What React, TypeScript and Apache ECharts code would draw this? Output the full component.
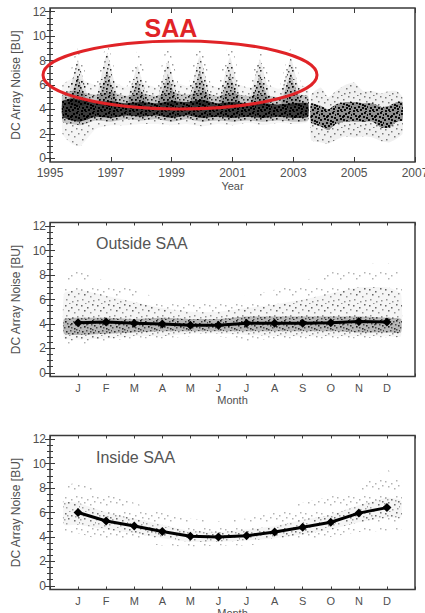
import React, { useEffect, useRef } from "react";
import * as echarts from "echarts";

// ---------- data ----------
const YEAR0 = 1995;
const yearTickLabels = ["1995", "1997", "1999", "2001", "2003", "2005", "2007"];
const monthLabels = ["J", "F", "M", "A", "M", "J", "J", "A", "S", "O", "N", "D"];
const months = [1, 2, 3, 4, 5, 6, 7, 8, 9, 10, 11, 12];

// Top panel, 1995.4 - 2003.5 (before the gap)
const earlyYears = [1995.41, 1995.7, 1996.0, 1996.5, 1997.0, 1997.5, 1998.0, 1998.5, 1999.0, 1999.5, 2000.0, 2000.5, 2001.0, 2001.5, 2002.0, 2002.5, 2003.0, 2003.48];
const earlyCoreLow = [3.4, 3.1, 3.0, 3.4, 3.3, 3.5, 3.4, 3.5, 3.3, 3.5, 3.3, 3.4, 3.3, 3.4, 3.3, 3.4, 3.3, 3.4];
const earlyCoreHigh = [4.7, 4.9, 4.8, 4.6, 4.7, 4.5, 4.6, 4.5, 4.7, 4.6, 4.8, 4.5, 4.6, 4.5, 4.5, 4.4, 4.5, 4.5];
const earlyMidLow = [3.0, 2.8, 2.7, 3.1, 3.0, 3.2, 3.1, 3.2, 3.0, 3.2, 3.0, 3.1, 3.0, 3.1, 3.0, 3.1, 3.0, 3.1];
const earlyMidHigh = [5.3, 5.5, 5.4, 5.2, 5.4, 5.1, 5.3, 5.1, 5.4, 5.2, 5.4, 5.1, 5.3, 5.1, 5.2, 5.0, 5.2, 5.1];
const earlyHaloLow = [2.0, 1.2, 1.0, 2.4, 2.7, 2.7, 2.8, 2.8, 2.7, 2.8, 2.6, 2.8, 2.7, 2.9, 2.7, 2.9, 2.8, 3.0];
const earlyHaloHigh = [6.0, 6.5, 6.5, 6.0, 6.3, 5.8, 6.2, 5.8, 6.3, 5.9, 6.3, 5.8, 6.2, 5.8, 6.1, 5.7, 6.0, 5.8];

// yearly SAA peaks
const saaPeakYears = [1995.92, 1996.88, 1997.88, 1998.88, 1999.93, 2000.92, 2001.91, 2002.92];
const saaPeakTops = [8.0, 8.6, 7.6, 8.0, 8.4, 8.3, 8.1, 8.2];
const saaDenseTops = [6.8, 7.2, 6.5, 6.9, 7.2, 7.0, 6.9, 7.0];
const saaSparseTops = [9.0, 9.3, 8.8, 9.2, 9.4, 9.5, 9.0, 9.0];

// Top panel, 2003.6 - 2006.6 (after the gap)
const lateYears = [2003.58, 2003.9, 2004.15, 2004.4, 2004.7, 2005.0, 2005.3, 2005.6, 2005.9, 2006.15, 2006.4, 2006.59];
const lateCoreLow = [2.9, 2.6, 2.3, 2.8, 3.0, 3.0, 3.0, 3.0, 2.5, 2.5, 3.0, 3.1];
const lateCoreHigh = [4.5, 4.3, 4.0, 4.4, 4.6, 4.6, 4.5, 4.5, 4.2, 4.3, 4.6, 4.6];
const lateHaloLow = [1.5, 1.3, 1.2, 1.5, 1.8, 1.7, 1.8, 1.7, 1.4, 1.3, 1.6, 2.0];
const lateHaloHigh = [5.2, 5.8, 5.0, 5.5, 6.0, 6.2, 5.5, 5.5, 5.3, 5.5, 5.5, 5.0];

// Middle panel (outside SAA)
const cloudMonths = [0.5, 1, 2, 3, 4, 5, 6, 7, 8, 9, 10, 11, 12, 12.5];
const outCoreLow = [3.2, 3.1, 3.2, 3.3, 3.4, 3.4, 3.4, 3.4, 3.4, 3.4, 3.4, 3.3, 3.3, 3.3];
const outCoreHigh = [4.4, 4.5, 4.5, 4.4, 4.5, 4.4, 4.4, 4.6, 4.6, 4.6, 4.6, 4.6, 4.5, 4.4];
const outHaloLow = [2.8, 2.7, 2.8, 3.0, 3.0, 3.2, 3.2, 3.1, 3.0, 3.0, 3.0, 3.0, 3.0, 3.0];
const outHaloHigh = [6.5, 6.8, 6.3, 5.8, 5.3, 5.0, 5.0, 5.3, 5.6, 6.0, 6.5, 7.0, 7.0, 6.5];
const outFaintLow = [2.5, 2.3, 2.6, 2.8, 2.8, 3.0, 3.0, 2.6, 2.8, 2.8, 2.8, 2.8, 2.9, 3.0];
const outFaintHigh = [7.8, 8.3, 7.5, 6.8, 6.0, 5.8, 6.0, 6.3, 6.8, 7.5, 8.2, 8.8, 9.0, 8.0];
const outsideMean = [4.1, 4.15, 4.05, 4.0, 3.9, 3.9, 4.05, 4.05, 4.05, 4.1, 4.2, 4.15];

// Bottom panel (inside SAA)
const inCoreLow = [5.0, 5.0, 4.6, 4.3, 3.9, 3.6, 3.6, 3.7, 3.9, 4.2, 4.6, 5.2, 5.6, 5.6];
const inCoreHigh = [6.8, 6.8, 6.0, 5.5, 5.0, 4.5, 4.4, 4.6, 4.9, 5.4, 5.8, 6.6, 7.2, 7.0];
const inHaloLow = [4.3, 4.3, 3.6, 3.5, 3.3, 3.2, 3.3, 3.3, 3.5, 3.7, 4.0, 4.4, 4.5, 4.5];
const inHaloHigh = [8.0, 8.5, 7.5, 6.8, 6.0, 5.5, 5.3, 5.5, 6.0, 6.8, 7.3, 8.0, 9.5, 8.5];
const insideMean = [6.0, 5.3, 4.9, 4.45, 4.05, 4.0, 4.1, 4.4, 4.8, 5.2, 5.95, 6.4];

// ---------- layout / style ----------
const FONT = '"Liberation Sans", Arial, sans-serif';
const TXT = "#505050";
const FRAME = "#3a3a3a";
const LEFT = 50;
const WIDTH = 365;
const FRAME_H = 154;
const PAD = 3.7;
const frameTops = [8, 222.5, 435.5];
const PEAK_BASE = 4.4;
const PEAK_HALF = 0.33;

// stipple texture tile (style only): dot spots inside a 16x16 tile
const STIPPLE = [
  [1, 1], [7, 3], [12, 0], [4, 6], [10, 8], [14, 5], [2, 11], [8, 13], [13, 12], [5, 15], [0, 7], [11, 4],
  [3, 3], [15, 10], [6, 10], [9, 1], [13, 15], [1, 14], [7, 7], [10, 11], [4, 13], [15, 2], [12, 9], [6, 4],
];

function stipple(bg: string, dotColor: string, count: number, size: number): any {
  const c = document.createElement("canvas");
  c.width = 16;
  c.height = 16;
  const ctx = c.getContext("2d")!;
  if (bg) {
    ctx.fillStyle = bg;
    ctx.fillRect(0, 0, 16, 16);
  }
  ctx.fillStyle = dotColor;
  for (let i = 0; i < count && i < STIPPLE.length; i++) {
    ctx.fillRect(STIPPLE[i][0], STIPPLE[i][1], size, size);
  }
  return { image: c, repeat: "repeat" };
}

function band(xs: number[], lo: number[], hi: number[], fill: any, idx: number, shift = 0) {
  return {
    type: "custom",
    xAxisIndex: idx * 2,
    yAxisIndex: idx * 2,
    silent: true,
    z: 1,
    data: [[xs[0] - shift, lo[0]]],
    renderItem: (_p: any, api: any) => {
      const pts: number[][] = [];
      for (let i = 0; i < xs.length; i++) pts.push(api.coord([xs[i] - shift, hi[i]]));
      for (let i = xs.length - 1; i >= 0; i--) pts.push(api.coord([xs[i] - shift, lo[i]]));
      return { type: "polygon", shape: { points: pts, smooth: 0.15 }, style: { fill, stroke: "none" } };
    },
  };
}

function peaks(tops: number[], half: number, fill: any) {
  return {
    type: "custom",
    xAxisIndex: 0,
    yAxisIndex: 0,
    silent: true,
    z: 1,
    data: saaPeakYears.map((y, i) => [y - YEAR0, tops[i]]),
    renderItem: (_p: any, api: any) => {
      const x = api.value(0);
      const t = api.value(1);
      const pts = [
        api.coord([x - half, PEAK_BASE]),
        api.coord([x - half * 0.25, t - 0.6]),
        api.coord([x, t]),
        api.coord([x + half * 0.25, t - 0.7]),
        api.coord([x + half, PEAK_BASE]),
      ];
      return { type: "polygon", shape: { points: pts, smooth: 0.2 }, style: { fill, stroke: "none" } };
    },
  };
}

function yAxes(gi: number) {
  const base: any = {
    type: "value",
    gridIndex: gi,
    min: 0,
    max: 12,
    interval: 2,
    splitLine: { show: false },
    axisLine: { show: false },
    axisTick: { show: true, inside: true, length: 5, lineStyle: { color: FRAME, width: 1 } },
    minorTick: { show: true, splitNumber: 4, length: 3, lineStyle: { color: FRAME, width: 1 } },
    minorSplitLine: { show: false },
  };
  return [
    {
      ...base,
      position: "left",
      name: "DC Array Noise [BU]",
      nameLocation: "middle",
      nameGap: 23,
      nameTextStyle: { color: TXT, fontSize: 12, fontFamily: FONT },
      axisLabel: { color: TXT, fontSize: 12, fontFamily: FONT, margin: 4 },
    },
    { ...base, position: "right", axisLabel: { show: false } },
  ];
}

function xAxes(gi: number, isYear: boolean) {
  const base: any = {
    type: "value",
    gridIndex: gi,
    min: 0,
    max: isYear ? 12 : 13,
    interval: isYear ? 2 : 1,
    offset: PAD,
    splitLine: { show: false },
    axisLine: { show: false, onZero: false },
    axisTick: { show: true, inside: true, length: isYear ? 5 : 3, lineStyle: { color: FRAME, width: 1 } },
  };
  return [
    {
      ...base,
      position: "bottom",
      name: isYear ? "Year" : "Month",
      nameLocation: "middle",
      nameGap: isYear ? 18 : 17,
      nameTextStyle: { color: TXT, fontSize: 11, fontFamily: FONT },
      axisLabel: {
        color: TXT,
        fontSize: isYear ? 12 : 11,
        fontFamily: FONT,
        margin: isYear ? 5 : 6,
        formatter: (v: number) =>
          isYear ? yearTickLabels[Math.round(v / 2)] ?? "" : v >= 1 && v <= 12 ? monthLabels[v - 1] : "",
      },
    },
    { ...base, position: "top", axisLabel: { show: false } },
  ];
}

export default function App() {
  const ref = useRef<HTMLDivElement>(null);
  useEffect(() => {
    const chart = echarts.init(ref.current!, null, { renderer: "svg" });
    const lineSeries = (idx: number, vals: number[]) => ({
      type: "line",
      xAxisIndex: idx * 2,
      yAxisIndex: idx * 2,
      data: months.map((m, i) => [m, vals[i]]),
      lineStyle: { color: "#000", width: 3 },
      itemStyle: { color: "#000" },
      symbol: "diamond",
      symbolSize: 9,
      z: 5,
      silent: true,
    });
    const option: any = {
      animation: false,
      grid: frameTops.map((t) => ({
        left: LEFT,
        width: WIDTH,
        top: t + PAD,
        height: FRAME_H - 2 * PAD,
        containLabel: false,
        outerBoundsMode: "none",
      })),
      xAxis: [...xAxes(0, true), ...xAxes(1, false), ...xAxes(2, false)],
      yAxis: [...yAxes(0), ...yAxes(1), ...yAxes(2)],
      series: [
        // top panel
        band(earlyYears, earlyHaloLow, earlyHaloHigh, stipple("rgba(0,0,0,0.04)", "rgba(0,0,0,0.45)", 8, 1.5), 0, YEAR0),
        peaks(saaSparseTops, PEAK_HALF + 0.1, stipple("", "rgba(0,0,0,0.4)", 6, 1.5)),
        peaks(saaPeakTops, PEAK_HALF, stipple("rgba(0,0,0,0.08)", "rgba(0,0,0,0.7)", 14, 1.5)),
        peaks(saaDenseTops, PEAK_HALF * 0.9, stipple("rgba(0,0,0,0.2)", "rgba(0,0,0,0.85)", 22, 1.5)),
        band(earlyYears, earlyMidLow, earlyMidHigh, stipple("rgba(0,0,0,0.2)", "rgba(0,0,0,0.75)", 18, 1.5), 0, YEAR0),
        band(earlyYears, earlyCoreLow, earlyCoreHigh, stipple("rgba(0,0,0,0.7)", "rgba(0,0,0,1)", 24, 2), 0, YEAR0),
        band(lateYears, lateHaloLow, lateHaloHigh, stipple("rgba(0,0,0,0.06)", "rgba(0,0,0,0.5)", 10, 1.5), 0, YEAR0),
        band(lateYears, lateCoreLow, lateCoreHigh, stipple("rgba(0,0,0,0.4)", "rgba(0,0,0,0.9)", 24, 2), 0, YEAR0),
        // middle panel
        band(cloudMonths, outFaintLow, outFaintHigh, stipple("", "rgba(0,0,0,0.3)", 4, 1.5), 1),
        band(cloudMonths, outHaloLow, outHaloHigh, stipple("rgba(0,0,0,0.04)", "rgba(0,0,0,0.4)", 10, 1.5), 1),
        band(cloudMonths, outCoreLow, outCoreHigh, stipple("rgba(0,0,0,0.25)", "rgba(0,0,0,0.6)", 24, 1.5), 1),
        lineSeries(1, outsideMean),
        // bottom panel
        band(cloudMonths, inHaloLow, inHaloHigh, stipple("", "rgba(0,0,0,0.3)", 6, 1.5), 2),
        band(cloudMonths, inCoreLow, inCoreHigh, stipple("rgba(0,0,0,0.04)", "rgba(0,0,0,0.35)", 14, 1.5), 2),
        lineSeries(2, insideMean),
      ],
      graphic: [
        ...frameTops.map((t) => ({
          type: "rect",
          silent: true,
          z: 100,
          shape: { x: LEFT, y: t, width: WIDTH, height: FRAME_H },
          style: { fill: "none", stroke: FRAME, lineWidth: 1.5 },
        })),
        {
          type: "ellipse",
          silent: true,
          z: 110,
          shape: { cx: 180, cy: 75, rx: 137, ry: 34 },
          style: { fill: "none", stroke: "#e02327", lineWidth: 3 },
        },
        {
          type: "text",
          silent: true,
          z: 110,
          x: 171,
          y: 28,
          style: {
            text: "SAA",
            fill: "#e02327",
            font: `bold 25px ${FONT}`,
            textAlign: "center",
            align: "center",
            textVerticalAlign: "middle",
            verticalAlign: "middle",
          },
        },
        {
          type: "text",
          silent: true,
          z: 110,
          x: 96,
          y: 243,
          style: { text: "Outside SAA", fill: "#555", font: `16px ${FONT}`, textVerticalAlign: "middle", verticalAlign: "middle" },
        },
        {
          type: "text",
          silent: true,
          z: 110,
          x: 96,
          y: 457,
          style: { text: "Inside SAA", fill: "#555", font: `16px ${FONT}`, textVerticalAlign: "middle", verticalAlign: "middle" },
        },
      ],
    };
    chart.setOption(option);
    return () => chart.dispose();
  }, []);
  return (
    <div
      ref={ref}
      style={{ position: "absolute", left: 0, top: 0, width: 425, height: 613, background: "#fff" }}
    />
  );
}
